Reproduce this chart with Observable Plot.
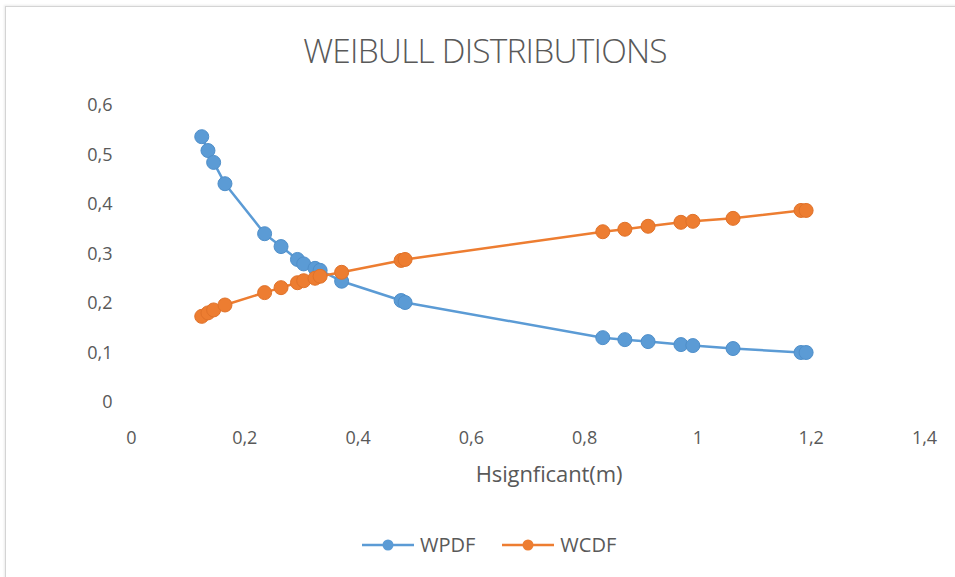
<!DOCTYPE html>
<html>
<head>
<meta charset="utf-8">
<script src="https://cdn.jsdelivr.net/npm/d3@7"></script>
<script src="https://cdn.jsdelivr.net/npm/@observablehq/plot@0.6"></script>
<style>
  html, body { margin: 0; padding: 0; background: #fff; }
  #chart { position: relative; width: 955px; height: 577px; overflow: hidden; font-family: "Open Sans", sans-serif; color: #595959; }
  #frame { position: absolute; left: 5px; top: 6px; width: 1000px; height: 600px; border-left: 1px solid #d4d4d4; border-top: 1px solid #d4d4d4; box-shadow: -1px -1px 2px rgba(0,0,0,0.08); }
  #title { position: absolute; left: 0; width: 970px; top: 27px; text-align: center; font-size: 33.5px; font-weight: 300; letter-spacing: -0.8px; color: #595959; }
  #xlabel { position: absolute; left: 0; width: 1098px; top: 458px; text-align: center; font-size: 22px; letter-spacing: -0.1px; color: #595959; }
  #legend { position: absolute; top: 531px; left: 362px; display: flex; align-items: center; font-size: 20px; color: #595959; }
  .item { display: flex; align-items: center; margin-right: 27px; }
  .item svg { margin-right: 6px; }
  #chart svg.plot { position: absolute; left: 0; top: 0; }
</style>
</head>
<body>
<div id="chart">
  <div id="frame"></div>
  <div id="title">WEIBULL DISTRIBUTIONS</div>
  <div id="xlabel">Hsignficant(m)</div>
  <div id="legend"></div>
</div>
<script>
// Significant wave height (m) and the two Weibull curves evaluated at it
const hs   = [0.124, 0.135, 0.145, 0.165, 0.235, 0.264, 0.293, 0.304, 0.324, 0.333, 0.371, 0.476, 0.483, 0.832, 0.871, 0.912, 0.970, 0.991, 1.062, 1.182, 1.191];
const wpdf = [0.537, 0.509, 0.485, 0.442, 0.341, 0.315, 0.289, 0.280, 0.271, 0.267, 0.245, 0.206, 0.202, 0.131, 0.127, 0.123, 0.117, 0.115, 0.109, 0.101, 0.101];
const wcdf = [0.174, 0.181, 0.187, 0.197, 0.222, 0.232, 0.242, 0.246, 0.251, 0.255, 0.263, 0.287, 0.289, 0.345, 0.350, 0.356, 0.364, 0.366, 0.372, 0.388, 0.388];

const seriesNames = ["WPDF", "WCDF"];
const seriesColors = ["#5B9BD5", "#ED7D31"];
const xTicks = [0, 0.2, 0.4, 0.6, 0.8, 1, 1.2, 1.4];
const yTicks = [0, 0.1, 0.2, 0.3, 0.4, 0.5, 0.6];

const pdfRows = hs.map((h, i) => ({h, v: wpdf[i]}));
const cdfRows = hs.map((h, i) => ({h, v: wcdf[i]}));

// decimal comma labels
const fmt = d => String(+d.toFixed(1)).replace(".", ",");

const plot = Plot.plot({
  width: 955,
  height: 577,
  marginLeft: 131,
  marginRight: 31,
  marginTop: 105,
  marginBottom: 175,
  style: {fontFamily: "Open Sans, sans-serif", fontSize: "18px", color: "#595959", background: "transparent"},
  x: {domain: [0, 1.4], ticks: xTicks, tickFormat: fmt, tickSize: 0, tickPadding: 29, label: null},
  y: {domain: [0, 0.6], ticks: yTicks, tickFormat: fmt, tickSize: 0, tickPadding: 19, label: null},
  marks: [
    Plot.line(pdfRows, {x: "h", y: "v", stroke: seriesColors[0], strokeWidth: 2.5}),
    Plot.dot(pdfRows, {x: "h", y: "v", r: 7, fill: seriesColors[0], stroke: "#4f8fca", strokeWidth: 1}),
    Plot.line(cdfRows, {x: "h", y: "v", stroke: seriesColors[1], strokeWidth: 2.5}),
    Plot.dot(cdfRows, {x: "h", y: "v", r: 7, fill: seriesColors[1], stroke: "#e0722a", strokeWidth: 1})
  ]
});
plot.classList.add("plot");
document.getElementById("chart").insertBefore(plot, document.getElementById("title"));

// legend: line-with-marker swatches
const legend = document.getElementById("legend");
seriesNames.forEach((name, i) => {
  const item = document.createElement("div");
  item.className = "item";
  item.innerHTML = `<svg width="52" height="14"><line x1="0" x2="52" y1="7" y2="7" stroke="${seriesColors[i]}" stroke-width="2.5"/><circle cx="26" cy="7" r="5.5" fill="${seriesColors[i]}"/></svg><span>${name}</span>`;
  legend.appendChild(item);
});
</script>
</body>
</html>
